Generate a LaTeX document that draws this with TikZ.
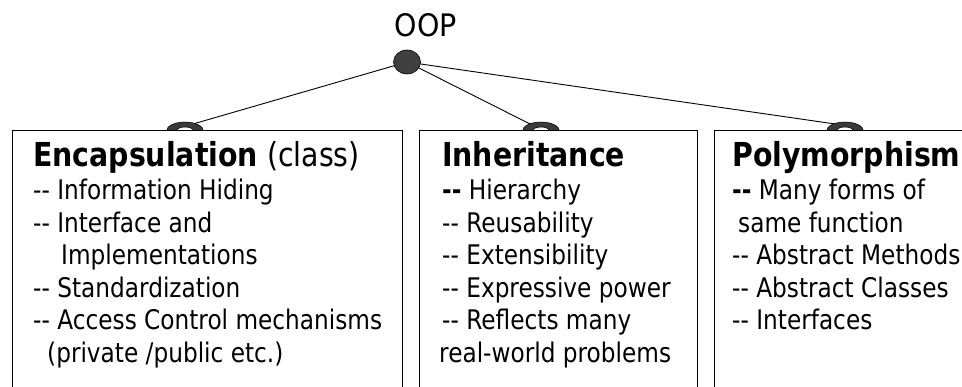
\documentclass[tikz,border=0pt]{standalone}
\usepackage{fontspec}
\setmainfont{DejaVu Sans}[FakeStretch=0.86]
\newfontfamily\rootfont{DejaVu Sans}[FakeStretch=0.92]
\usetikzlibrary{shapes.geometric}
\definecolor{hubgray}{HTML}{404040}
\definecolor{ringgray}{HTML}{3A3A3A}
\begin{document}
\begin{tikzpicture}[x=1pt,y=-1pt,
  panel/.style={draw=black, fill=white, line width=0.9pt},
  link/.style={draw=black, line width=0.9pt},
  ring/.style={fill=ringgray, draw=black, line width=0.5pt, even odd rule},
  hdr/.style={anchor=base west, inner sep=0pt, font=\fontsize{33}{38}\selectfont},
  ln/.style={anchor=base west, inner sep=0pt, font=\fontsize{27}{32}\selectfont}]
\useasboundingbox (0,0) rectangle (962,387);
\clip (0,0) rectangle (962,387);

% hub and the three joints on the panel tops
\coordinate (hub) at (407,62);
\coordinate (r1) at (185,131);
\coordinate (r2) at (541,131);
\coordinate (r3) at (845,131);
\coordinate (j1) at (193,124);
\coordinate (j2) at (538,128);
\coordinate (j3) at (842,125);

% connectors
\draw[link] (hub) -- (j1);
\draw[link] (hub) -- (j2);
\draw[link] (hub) -- (j3);

% ring joints (their lower halves are hidden by the panels)
\foreach \r in {r1,r2,r3}
  \path[ring] (\r) ellipse [x radius=18.5pt, y radius=9pt]
              (\r) ellipse [x radius=8.5pt, y radius=4pt];

% panels, open towards the bottom
\path[panel] (12,130) rectangle (402,420);
\path[panel] (419,130) rectangle (697,420);
\path[panel] (714,130) rectangle (990,420);

% root
\node[ellipse, draw=black, fill=hubgray, line width=0.6pt, inner sep=0pt,
      minimum width=27pt, minimum height=24pt] (dot) at (hub) {};
\node[anchor=base, inner sep=0pt, font=\rootfont\fontsize{31}{36}\selectfont] (oop) at (426,37) {OOP};

% Encapsulation
\node[hdr] (enc) at (33,167) {\textbf{Encapsulation} (class)};
\node[ln] (enc1) at (33,200) {-{}- Information Hiding};
\node[ln] (enc2) at (33,232.5) {-{}- Interface and};
\node[ln] (enc3) at (61,265) {Implementations};
\node[ln] (enc4) at (33,297.5) {-{}- Standardization};
\node[ln] (enc5) at (33,330) {-{}- Access Control mechanisms};
\node[ln] (enc6) at (47,362.5) {(private /public etc.)};

% Inheritance
\node[hdr] (inh) at (442,167) {\textbf{Inheritance}};
\node[ln] (inh1) at (442,200) {\textbf{-{}-} Hierarchy};
\node[ln] (inh2) at (442,232.5) {-{}- Reusability};
\node[ln] (inh3) at (442,265) {-{}- Extensibility};
\node[ln] (inh4) at (442,297.5) {-{}- Expressive power};
\node[ln] (inh5) at (442,330) {-{}- Reflects many};
\node[ln] (inh6) at (439,362.5) {real-world problems};

% Polymorphism
\node[hdr] (pol) at (732,167) {\textbf{Polymorphism}};
\node[ln] (pol1) at (732,200) {\textbf{-{}-} Many forms of};
\node[ln] (pol2) at (738,232.5) {same function};
\node[ln] (pol3) at (732,265) {-{}- Abstract Methods};
\node[ln] (pol4) at (732,297.5) {-{}- Abstract Classes};
\node[ln] (pol5) at (732,330) {-{}- Interfaces};
\end{tikzpicture}
\end{document}
